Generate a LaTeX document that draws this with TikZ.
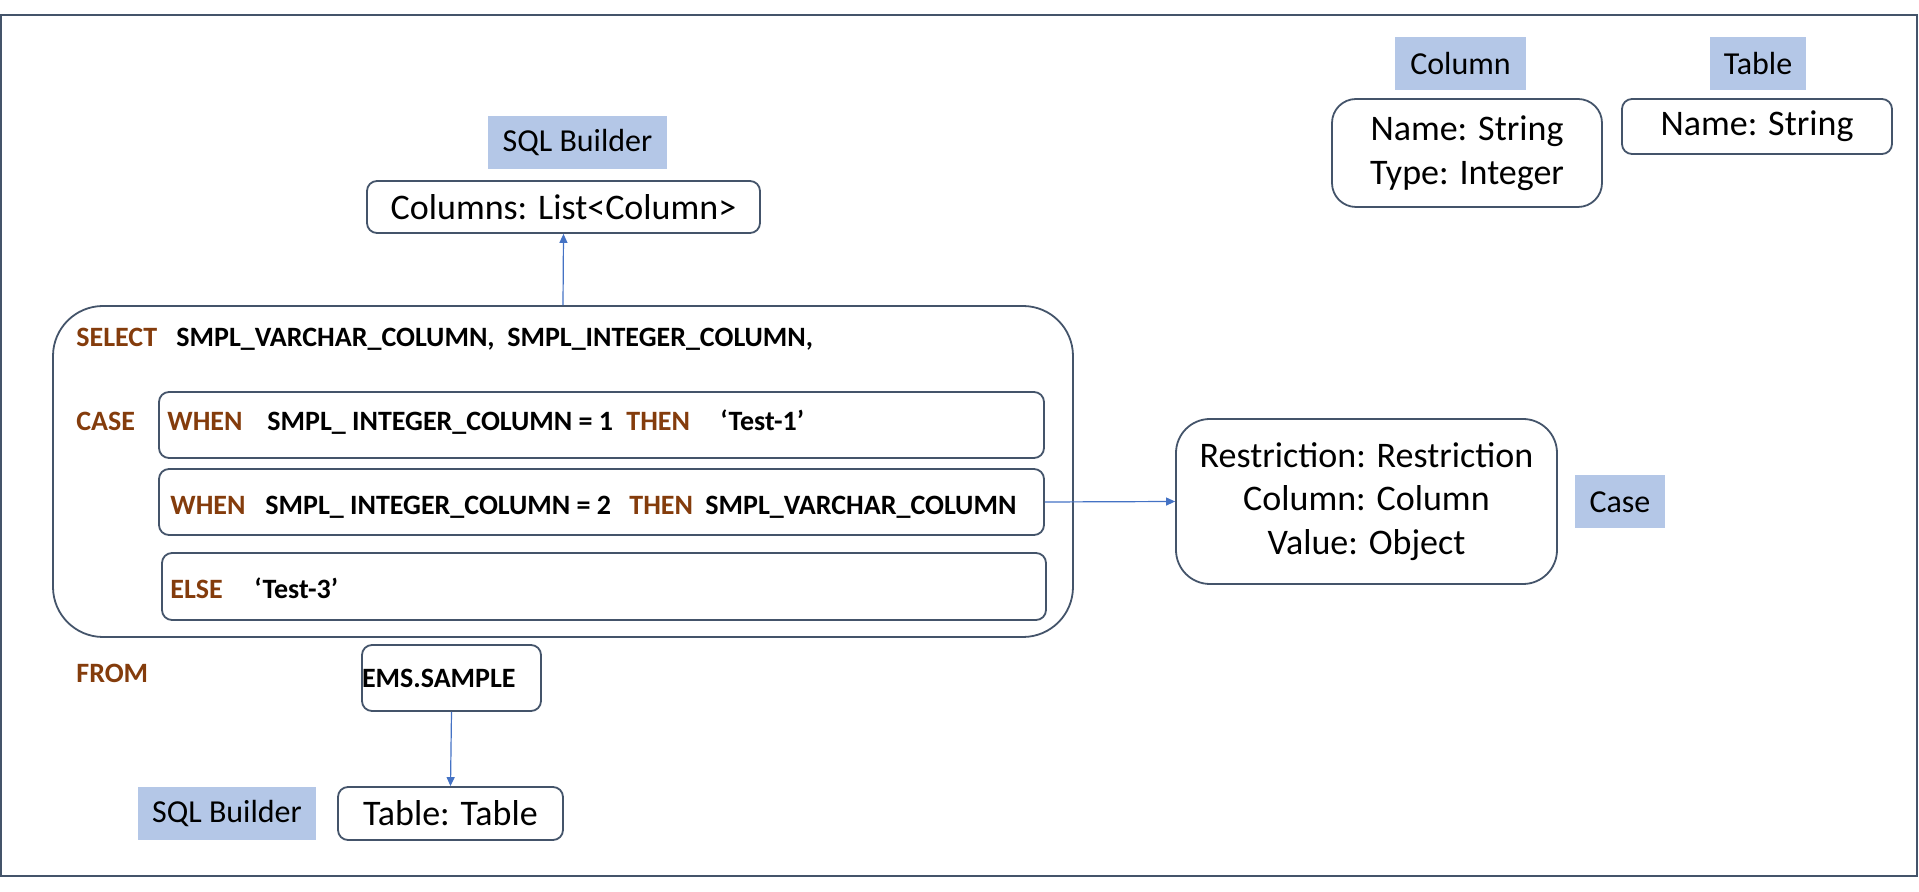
\documentclass[tikz,border=0pt]{standalone}
\usepackage{fontspec}
\setmainfont{Carlito}
\usetikzlibrary{arrows.meta}
\definecolor{frameblue}{HTML}{44546A}
\definecolor{keyword}{HTML}{843C0C}
\definecolor{tagfill}{HTML}{B4C7E7}
\definecolor{linkblue}{HTML}{4472C4}
\begin{document}
\begin{tikzpicture}[x=0.5pt,y=-0.5pt,
  box/.style={draw=frameblue,line width=0.9pt,rounded corners=5pt,inner sep=0pt,align=center,
    font=\fontsize{18}{21.7}\selectfont},
  tag/.style={fill=tagfill,inner sep=0pt,minimum height=26.5pt,font=\fontsize{16}{18}\selectfont},
  kw/.style={anchor=base west,inner sep=0pt,text=keyword,font=\bfseries\fontsize{14}{16}\selectfont},
  sql/.style={anchor=base west,inner sep=0pt,font=\bfseries\fontsize{14}{16}\selectfont},
  link/.style={draw=linkblue,line width=0.6pt,-{Triangle[length=4.5pt,width=4pt]}}]
\useasboundingbox (0,0) rectangle (1919,892);
\draw[frameblue,line width=1pt] (1,15) rectangle (1917,876);
\node[tag,minimum width=89.5pt] (builder) at (577.5,142.5) {SQL Builder};
\node[box,minimum width=196.5pt,minimum height=26pt] (columns) at (563.5,207) {Columns: List<Column>};
\node[box,rounded corners=25pt,minimum width=510pt,minimum height=165.5pt] (select) at (563,471.5) {};
\node[box,minimum width=442.5pt,minimum height=33pt] (when1) at (601.5,425) {};
\node[box,minimum width=442.5pt,minimum height=33pt] (when2) at (601.5,502) {};
\node[box,minimum width=442pt,minimum height=33.5pt] (else) at (604,586.5) {};
\node[box,text width=89.5pt,align=left,minimum height=33pt,font=\bfseries\fontsize{14}{16}\selectfont] (ems) at (451.5,678) {EMS.SAMPLE};
\node[box,minimum width=112.5pt,minimum height=26.5pt] (tablename) at (450.5,813.5) {Table: Table};
\node[tag,minimum width=89pt] (builder2) at (227,813.5) {SQL Builder};
\node[box,rounded corners=17pt,minimum width=190.5pt,minimum height=82.5pt] (case) at (1366.5,501.5)
  {Restriction: Restriction\\Column: Column\\Value: Object};
\node[tag,minimum width=45pt] (caselabel) at (1620,502) {Case};
\node[box,rounded corners=12pt,minimum width=135pt,minimum height=54pt,text depth=3pt,font=\fontsize{18}{22}\selectfont] (column) at (1467,153)
  {Name: String\\Type: Integer};
\node[tag,minimum width=65.5pt] (columnlabel) at (1460.5,63.5) {Column};
\node[box,minimum width=135pt,minimum height=27.5pt,font=\fontsize{18}{22}\selectfont] (table) at (1757,126.5) {Name: String};
\node[tag,minimum width=48pt] (tablelabel) at (1758,63.5) {Table};
\node[kw] (kselect) at (76,347) {SELECT};
\node[sql] (selcols) at (176,347) {SMPL\_VARCHAR\_COLUMN,\ \ SMPL\_INTEGER\_COLUMN,};
\node[kw] (kcase) at (76,431) {CASE};
\node[kw] (kwhen1) at (167,431) {WHEN};
\node[sql] (cond1) at (267,431) {SMPL\_ INTEGER\_COLUMN = 1};
\node[kw] (kthen1) at (626,431) {THEN};
\node[sql] (val1) at (720,431) {‘Test-1’};
\node[kw] (kwhen2) at (170,515) {WHEN};
\node[sql] (cond2) at (265,515) {SMPL\_ INTEGER\_COLUMN = 2};
\node[kw] (kthen2) at (629,515) {THEN};
\node[sql] (val2) at (705,515) {SMPL\_VARCHAR\_COLUMN};
\node[kw] (kelse) at (170,599) {ELSE};
\node[sql] (val3) at (254,599) {‘Test-3’};
\node[kw] (kfrom) at (76,683) {FROM};
\draw[link] (select.north) -- (columns.south);
\draw[link] (when2.east) -- (case.west);
\draw[link] (ems.south) -- (tablename.north);
\end{tikzpicture}
\end{document}
